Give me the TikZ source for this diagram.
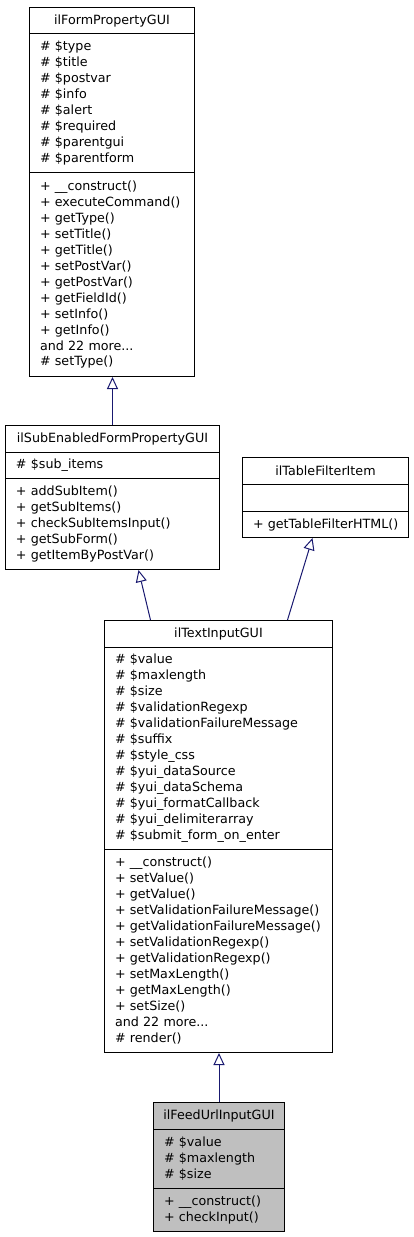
\documentclass[tikz,border=0pt]{standalone}
\usepackage{fontspec}
\newfontfamily\umlfont{DejaVu Sans}
\usetikzlibrary{arrows.meta}
\definecolor{edgeblue}{HTML}{191970}
\definecolor{hilite}{HTML}{BFBFBF}
\tikzset{
  cls/.style={draw=black, line width=1pt, inner ysep=0pt, anchor=north west,
    font={\umlfont\fontsize{12.7}{16}\selectfont}},
  ctitle/.style={cls, inner xsep=0pt, align=center},
  comp/.style={cls, inner xsep=10.5pt, align=left},
  inh/.style={draw=edgeblue, line width=1pt,
    -{Triangle[length=12pt,width=11pt,fill=white,line width=1pt]}},
}
\begin{document}
\begin{tikzpicture}[x=1pt,y=-1pt]
\useasboundingbox (0,0) rectangle (413,1237);
% ilFormPropertyGUI
\node[ctitle, minimum width=165pt, minimum height=26pt] (C1t) at (29,7) {ilFormPropertyGUI};
\node[comp, text width=144pt, minimum height=139pt] (C1a) at (29,33) {\# \$type\\\# \$title\\\# \$postvar\\\# \$info\\\# \$alert\\\# \$required\\\# \$parentgui\\\# \$parentform};
\node[comp, text width=144pt, minimum height=204pt] (C1m) at (29,172) {+ \_\_construct()\\+ executeCommand()\\+ getType()\\+ setTitle()\\+ getTitle()\\+ setPostVar()\\+ getPostVar()\\+ getFieldId()\\+ setInfo()\\+ getInfo()\\and 22 more...\\\# setType()};
% ilSubEnabledFormPropertyGUI
\node[ctitle, minimum width=214pt, minimum height=27pt] (C2t) at (5,425) {ilSubEnabledFormPropertyGUI};
\node[comp, text width=193pt, minimum height=26pt] (C2a) at (5,452) {\# \$sub\_items};
\node[comp, text width=193pt, minimum height=91pt] (C2m) at (5,478) {+ addSubItem()\\+ getSubItems()\\+ checkSubItemsInput()\\+ getSubForm()\\+ getItemByPostVar()};
% ilTableFilterItem
\node[ctitle, minimum width=166pt, minimum height=27pt] (C3t) at (242,457) {ilTableFilterItem};
\node[comp, text width=145pt, minimum height=27pt] (C3a) at (242,484) {};
\node[comp, text width=145pt, minimum height=26pt] (C3m) at (242,511) {\mbox{+ getTableFilterHTML()}};
% ilTextInputGUI
\node[ctitle, minimum width=228pt, minimum height=27pt] (C4t) at (104,620) {ilTextInputGUI};
\node[comp, text width=207pt, minimum height=202pt] (C4a) at (104,647) {\# \$value\\\# \$maxlength\\\# \$size\\\# \$validationRegexp\\\# \$validationFailureMessage\\\# \$suffix\\\# \$style\_css\\\# \$yui\_dataSource\\\# \$yui\_dataSchema\\\# \$yui\_formatCallback\\\# \$yui\_delimiterarray\\\# \$submit\_form\_on\_enter};
\node[comp, text width=207pt, minimum height=203pt] (C4m) at (104,849) {+ \_\_construct()\\+ setValue()\\+ getValue()\\+ setValidationFailureMessage()\\+ getValidationFailureMessage()\\+ setValidationRegexp()\\+ getValidationRegexp()\\+ setMaxLength()\\+ getMaxLength()\\+ setSize()\\and 22 more...\\\# render()};
% ilFeedUrlInputGUI
\node[ctitle, fill=hilite, minimum width=131pt, minimum height=27pt] (C5t) at (153,1102) {ilFeedUrlInputGUI};
\node[comp, fill=hilite, text width=110pt, minimum height=59pt] (C5a) at (153,1129) {\# \$value\\\# \$maxlength\\\# \$size};
\node[comp, fill=hilite, text width=110pt, minimum height=43pt] (C5m) at (153,1188) {+ \_\_construct()\\+ checkInput()};
% inheritance
\draw[inh] (C2t.north) -- (C2t.north |- C1m.south);
\draw[inh] ([xshift=-68pt]C4t.north) -- ([xshift=26pt]C2m.south);
\draw[inh] ([xshift=69pt]C4t.north) -- ([xshift=-13pt]C3m.south);
\draw[inh] (C5t.north) -- (C5t.north |- C4m.south);
\end{tikzpicture}
\end{document}
